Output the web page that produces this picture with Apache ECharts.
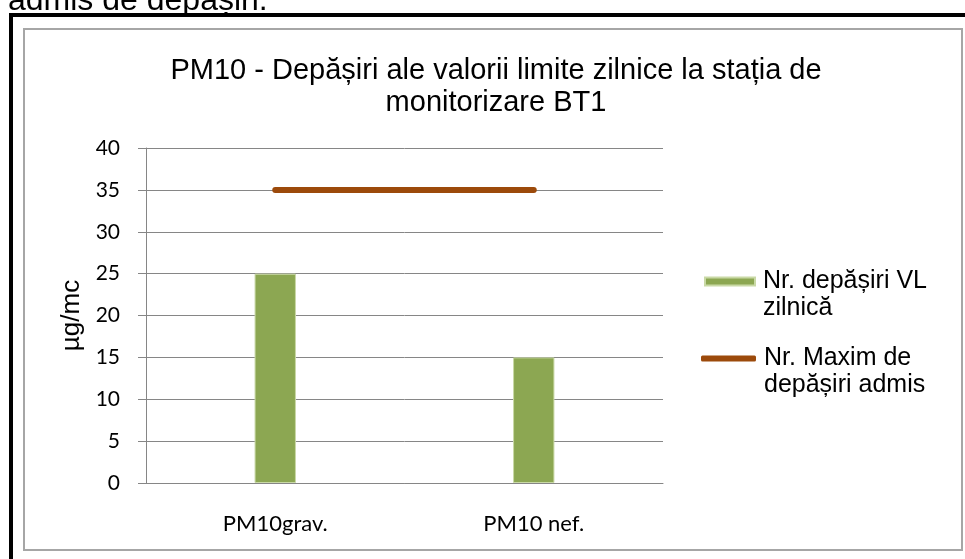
<!DOCTYPE html>
<html>
<head>
<meta charset="utf-8">
<script src="https://cdn.jsdelivr.net/npm/echarts@6/dist/echarts.min.js"></script>
<style>
  html, body { margin: 0; padding: 0; background: #fff; }
  #chart { width: 965px; height: 559px; }
</style>
</head>
<body>
<div id="chart"></div>
<script>
const categories = ['PM10grav.', 'PM10 nef.'];
const exceedances = [25, 15];
const maxAllowed = [35, 35];
const yTicks = { min: 0, max: 40, interval: 5 };
const barName = 'Nr. depășiri VL\nzilnică';
const lineName = 'Nr. Maxim de\ndepășiri admis';

const chart = echarts.init(document.getElementById('chart'));

// blank first line so the icon sits beside the first text line, as in Excel
const legendFormat = name => ' \n' + name;
const legendText = { fontFamily: 'Liberation Sans, Arial', fontSize: 25, color: '#000', lineHeight: 27, padding: [0, 0, 0, 3] };

const option = {
  animation: false,
  backgroundColor: '#fff',
  graphic: [
    {
      type: 'text',
      style: { text: 'admis de depășiri.', x: 8, y: 17, fontFamily: 'Liberation Sans, Arial', fontSize: 32, fill: '#000', verticalAlign: 'bottom' }
    },
    {
      type: 'rect',
      shape: { x: 11, y: 15, width: 1000, height: 1000 },
      style: { fill: 'none', stroke: '#000', lineWidth: 4 }
    },
    {
      type: 'rect',
      shape: { x: 24, y: 29, width: 938, height: 521 },
      style: { fill: 'none', stroke: '#a6a6a6', lineWidth: 2 }
    },
    {
      type: 'text',
      style: {
        text: 'PM10 - Depășiri ale valorii limite zilnice la stația de\nmonitorizare BT1',
        x: 496, y: 87, align: 'center', verticalAlign: 'middle',
        fontFamily: 'Liberation Sans, Arial', fontSize: 29, lineHeight: 32, fill: '#000'
      }
    }
  ],
  legend: [
    {
      orient: 'vertical', left: 699, top: 236,
      itemWidth: 50, itemHeight: 8,
      data: [{ name: barName, icon: 'rect' }],
      formatter: legendFormat,
      textStyle: legendText
    },
    {
      orient: 'vertical', left: 696, top: 313,
      itemWidth: 55, itemHeight: 6,
      data: [{ name: lineName, icon: 'roundRect' }],
      formatter: legendFormat,
      textStyle: legendText
    }
  ],
  grid: { left: 146, top: 148, width: 517, height: 335, containLabel: false },
  xAxis: {
    type: 'category',
    data: categories,
    axisLine: { lineStyle: { color: '#868686', width: 1 } },
    axisTick: { show: false },
    axisLabel: { fontFamily: 'Lato, Open Sans, sans-serif', fontSize: 22, color: '#000', margin: 30 }
  },
  yAxis: {
    type: 'value',
    min: yTicks.min, max: yTicks.max, interval: yTicks.interval,
    name: 'µg/mc',
    nameLocation: 'middle',
    nameGap: 58,
    nameTextStyle: { fontFamily: 'Liberation Sans, Arial', fontSize: 26, color: '#000' },
    axisLine: { show: true, lineStyle: { color: '#868686', width: 1 } },
    axisTick: { show: true, length: 8, lineStyle: { color: '#868686' } },
    axisLabel: { fontFamily: 'Lato, Open Sans, sans-serif', fontSize: 21, color: '#000', margin: 26 },
    splitLine: { lineStyle: { color: '#868686', width: 1 } }
  },
  series: [
    {
      name: barName,
      type: 'bar',
      data: exceedances,
      barWidth: '16%',
      itemStyle: { color: '#8ca752', borderColor: '#c9d9a6', borderWidth: 1 }
    },
    {
      name: lineName,
      type: 'line',
      data: maxAllowed,
      symbol: 'none',
      lineStyle: { color: '#9c4a0b', width: 6, cap: 'round' },
      itemStyle: { color: '#9c4a0b' }
    }
  ]
};

option && chart.setOption(option);
</script>
</body>
</html>
